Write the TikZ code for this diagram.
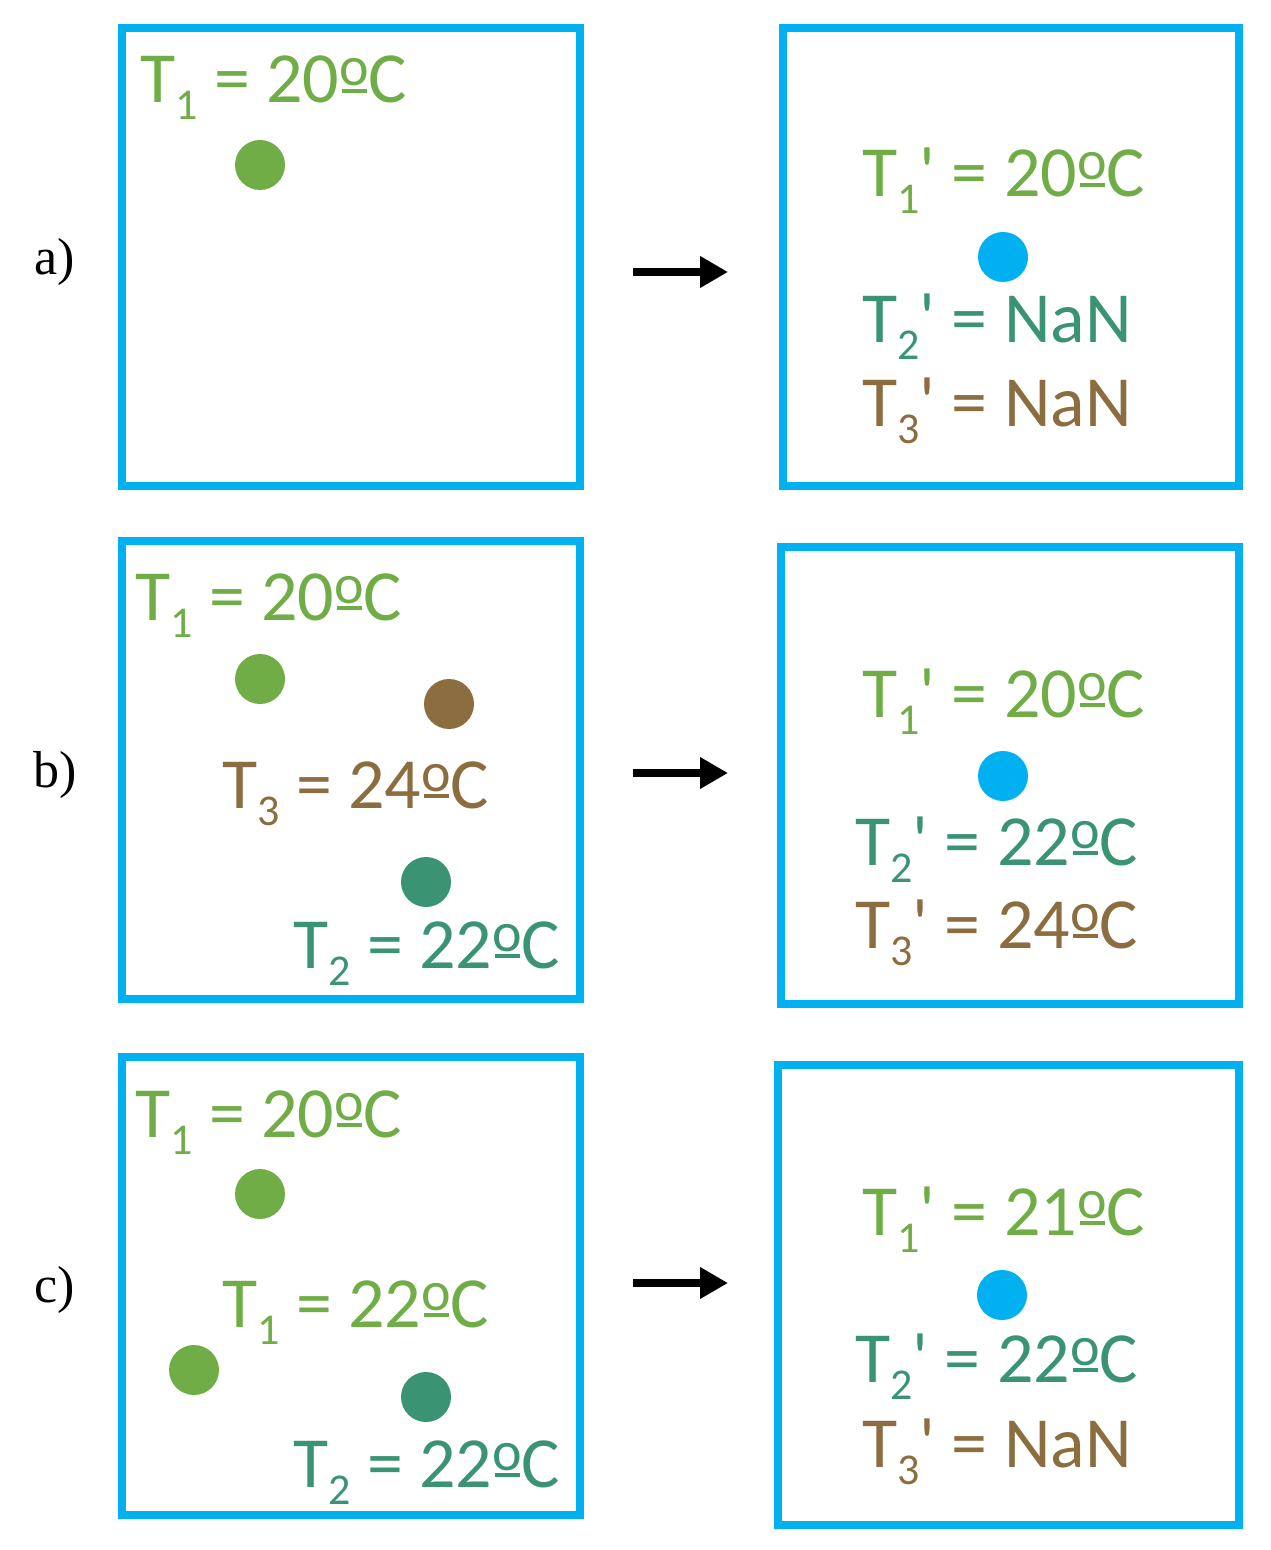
\documentclass[tikz,border=0pt]{standalone}
\usepackage{fontspec}
\setmainfont{Carlito}
\newfontfamily\casefont{Liberation Serif}
\usetikzlibrary{arrows.meta}

\definecolor{tgreen}{HTML}{70AD47}
\definecolor{tteal}{HTML}{3A9473}
\definecolor{tbrown}{HTML}{8C6D3F}
\definecolor{tblue}{HTML}{00B0F0}

% subscript, prime and degree sign used in the temperature labels
\newcommand{\sensub}[1]{\raisebox{-8.5pt}{\fontsize{22}{22}\selectfont #1}}
\newcommand{\pr}{\textquotesingle}
\newcommand{\ordo}{\rlap{\hspace{1.5pt}\rule[5pt]{12.5pt}{2.2pt}}\raisebox{8.5pt}{\fontsize{28}{28}\selectfont o}}
\newcommand{\degc}{\ordo C}

\begin{document}
\begin{tikzpicture}[
    x=0.5pt, y=-0.5pt,
    panel/.style={rectangle, draw=tblue, line width=4pt, inner sep=0pt},
    temp/.style={anchor=base west, inner sep=0pt, font=\fontsize{36}{36}\selectfont},
    sensor/.style={circle, inner sep=0pt, minimum size=25pt},
    case_label/.style={font=\casefont\fontsize{26}{26}\selectfont},
    flow/.style={-{Triangle[length=14pt, width=15pt]}, line width=4pt}
]
    \useasboundingbox (0,0) rectangle (1270,1550);

    % --- PANELS ---
    \node[panel, minimum width=229pt, minimum height=229pt] (aL) at (351,257) {};
    \node[panel, minimum width=228pt, minimum height=229pt] (aR) at (1011,257) {};
    \node[panel, minimum width=229pt, minimum height=229pt] (bL) at (351,770) {};
    \node[panel, minimum width=229pt, minimum height=228.5pt] (bR) at (1010,775) {};
    \node[panel, minimum width=229pt, minimum height=229pt] (cL) at (351,1286) {};
    \node[panel, minimum width=230.5pt, minimum height=230pt] (cR) at (1008,1295) {};

    % --- CASE LABELS AND ARROWS ---
    \foreach \case/\y/\ya in {a/262/272, b/775/773, c/1290/1283} {
        \node[case_label] (\case-lab) at (55,\y) {\case)};
        \coordinate (\case-s) at (633,\ya);
        \coordinate (\case-e) at (728,\ya);
        \draw[flow] (\case-s) -- (\case-e);
    }

    % --- CASE a ---
    \node[temp, text=tgreen] (a-t1) at (140,103) {T\sensub{1} = 20\degc};
    \node[sensor, fill=tgreen] (a-s1) at (260,165) {};
    \node[temp, text=tgreen] (a-r1) at (862,197) {T\sensub{1}\pr\ = 20\degc};
    \node[sensor, fill=tblue] (a-fused) at (1003,257) {};
    \node[temp, text=tteal] (a-r2) at (862,343) {T\sensub{2}\pr\ = NaN};
    \node[temp, text=tbrown] (a-r3) at (862,427) {T\sensub{3}\pr\ = NaN};

    % --- CASE b ---
    \node[temp, text=tgreen] (b-t1) at (135,620) {T\sensub{1} = 20\degc};
    \node[sensor, fill=tgreen] (b-s1) at (260,679) {};
    \node[sensor, fill=tbrown] (b-s3) at (449,704) {};
    \node[temp, text=tbrown] (b-t3) at (222,808) {T\sensub{3} = 24\degc};
    \node[sensor, fill=tteal] (b-s2) at (426,882) {};
    \node[temp, text=tteal] (b-t2) at (293,968) {T\sensub{2} = 22\degc};
    \node[temp, text=tgreen] (b-r1) at (862,717) {T\sensub{1}\pr\ = 20\degc};
    \node[sensor, fill=tblue] (b-fused) at (1003,776) {};
    \node[temp, text=tteal] (b-r2) at (855,865) {T\sensub{2}\pr\ = 22\degc};
    \node[temp, text=tbrown] (b-r3) at (855,948) {T\sensub{3}\pr\ = 24\degc};

    % --- CASE c ---
    \node[temp, text=tgreen] (c-t1) at (135,1137) {T\sensub{1} = 20\degc};
    \node[sensor, fill=tgreen] (c-s1) at (260,1194) {};
    \node[temp, text=tgreen] (c-t1b) at (222,1327) {T\sensub{1} = 22\degc};
    \node[sensor, fill=tgreen] (c-s1b) at (194,1370) {};
    \node[sensor, fill=tteal] (c-s2) at (426,1397) {};
    \node[temp, text=tteal] (c-t2) at (293,1487) {T\sensub{2} = 22\degc};
    \node[temp, text=tgreen] (c-r1) at (862,1235) {T\sensub{1}\pr\ = 21\degc};
    \node[sensor, fill=tblue] (c-fused) at (1002,1295) {};
    \node[temp, text=tteal] (c-r2) at (855,1382) {T\sensub{2}\pr\ = 22\degc};
    \node[temp, text=tbrown] (c-r3) at (862,1467) {T\sensub{3}\pr\ = NaN};

\end{tikzpicture}
\end{document}
